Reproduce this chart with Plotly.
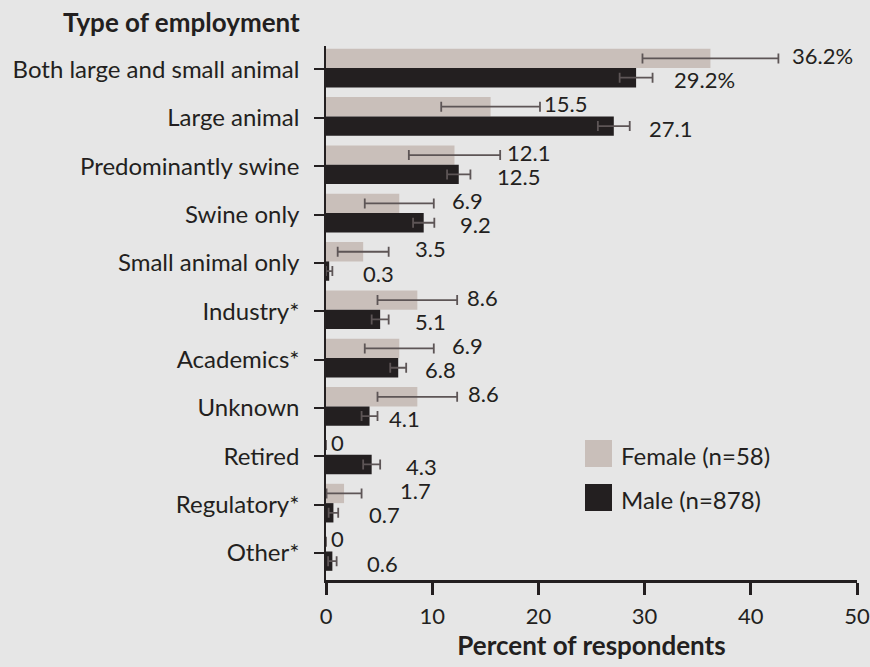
import plotly.graph_objects as go

# Employment type by gender, percent of respondents
categories = [
    "Both large and small animal", "Large animal", "Predominantly swine",
    "Swine only", "Small animal only", "Industry*", "Academics*", "Unknown",
    "Retired", "Regulatory*", "Other*",
]
female = [36.2, 15.5, 12.1, 6.9, 3.5, 8.6, 6.9, 8.6, 0, 1.7, 0]
male = [29.2, 27.1, 12.5, 9.2, 0.3, 5.1, 6.8, 4.1, 4.3, 0.7, 0.6]
female_err = [6.4, 4.65, 4.3, 3.25, 2.4, 3.75, 3.25, 3.75, 0, 1.65, 0]
male_err = [1.55, 1.5, 1.1, 1.0, 0.3, 0.8, 0.75, 0.75, 0.8, 0.45, 0.4]
x_ticks = [0, 10, 20, 30, 40, 50]

female_name = "Female (n=58)"
male_name = "Male (n=878)"

# styling
BG = "#e6e6e6"
FEMALE_COLOR = "#c9bfba"
MALE_COLOR = "#231f20"
ERR_COLOR = "#5d5556"
INK = "#231f20"
FONT = "Lato"
FS_TICK = 24
FS_VAL = 22
FS_BOLD = 26

# pixel nudges for the value labels (to the right of the error bar ends)
female_label_nudge = [13, 3, 6, 17, 25, 9, 17, 10, 4, 37, 4]
male_label_nudge = [20, 18, 26, 25, 30, 25, 18, 10, 25, 30, 29]

idx = list(range(len(categories)))
F_OFF, M_OFF, BAR_W = -0.23, 0.17, 0.40
f_pos = [i + F_OFF for i in idx]
m_pos = [i + M_OFF for i in idx]


def err_array(errs):
    return [e if e > 0 else None for e in errs]


def fmt(v, first):
    s = f"{v:g}"
    return s + "%" if first else s


fig = go.Figure()
fig.add_trace(go.Bar(
    y=f_pos, x=female, orientation="h", width=BAR_W, name=female_name,
    marker=dict(color=FEMALE_COLOR, line=dict(width=0)),
    error_x=dict(type="data", array=err_array(female_err), color=ERR_COLOR,
                 thickness=1.8, width=5),
    showlegend=False,
))
fig.add_trace(go.Bar(
    y=m_pos, x=male, orientation="h", width=BAR_W, name=male_name,
    marker=dict(color=MALE_COLOR, line=dict(width=0)),
    error_x=dict(type="data", array=err_array(male_err), color=ERR_COLOR,
                 thickness=1.8, width=5),
    showlegend=False,
))

annotations = []
for i in idx:
    annotations.append(dict(
        x=female[i] + female_err[i], y=f_pos[i], xref="x", yref="y",
        text=fmt(female[i], i == 0), showarrow=False, xanchor="left",
        yanchor="middle", xshift=female_label_nudge[i], yshift=3,
        borderpad=0, font=dict(family=FONT, size=FS_VAL, color=INK),
    ))
    annotations.append(dict(
        x=male[i] + male_err[i], y=m_pos[i], xref="x", yref="y",
        text=fmt(male[i], i == 0), showarrow=False, xanchor="left",
        yanchor="middle", xshift=male_label_nudge[i], yshift=-2,
        borderpad=0, font=dict(family=FONT, size=FS_VAL, color=INK),
    ))

# axis heading for the categories
annotations.append(dict(
    x=-0.046, y=1.0, xref="paper", yref="paper", yshift=24,
    text="<b>Type of employment</b>", showarrow=False,
    xanchor="right", yanchor="middle",
    font=dict(family=FONT, size=FS_BOLD, color=INK),
))

# legend: swatches + text
PW, PH = 531.0, 534.0  # plot area size in px
X0, Y0 = 326.0, 46.0   # plot area origin in px


def px_x(px):
    return (px - X0) / PW


def px_y(py):
    return 1 - (py - Y0) / PH


shapes = []
legend_items = [(female_name, FEMALE_COLOR, 440), (male_name, MALE_COLOR, 484)]
for name, color, top in legend_items:
    shapes.append(dict(
        type="rect", xref="paper", yref="paper",
        x0=px_x(585), x1=px_x(612), y0=px_y(top + 27), y1=px_y(top),
        fillcolor=color, line=dict(width=0),
    ))
    annotations.append(dict(
        x=px_x(619), y=px_y(top + 15), xref="paper", yref="paper",
        text=name, showarrow=False, xanchor="left", yanchor="middle",
        font=dict(family=FONT, size=FS_TICK, color=INK),
    ))

fig.update_layout(
    width=870, height=667,
    margin=dict(l=326, r=13, t=46, b=87, pad=0),
    paper_bgcolor=BG, plot_bgcolor=BG,
    barmode="overlay",
    font=dict(family=FONT, size=FS_TICK, color=INK),
    annotations=annotations,
    shapes=shapes,
    xaxis=dict(
        range=[0, 50], tickvals=x_ticks, ticktext=[str(t) for t in x_ticks],
        showline=True, linewidth=3, linecolor=INK,
        ticks="outside", ticklen=12, tickwidth=2.5, tickcolor=INK,
        showgrid=False, zeroline=False, ticklabelstandoff=3,
        ticklabeloverflow="allow",
        tickfont=dict(family=FONT, size=22, color=INK),
        title=dict(text="<b>Percent of respondents</b>", standoff=2,
                   font=dict(family=FONT, size=FS_BOLD, color=INK)),
        automargin=False,
    ),
    yaxis=dict(
        range=[10.56, -0.486], tickvals=idx, ticktext=categories,
        showline=True, linewidth=1.5, linecolor=INK,
        ticks="outside", ticklen=10, tickwidth=2, tickcolor=INK,
        showgrid=False, zeroline=False, ticklabelstandoff=10,
        tickfont=dict(family=FONT, size=FS_TICK, color=INK),
        automargin=False,
    ),
)

fig.write_html("out.html")
